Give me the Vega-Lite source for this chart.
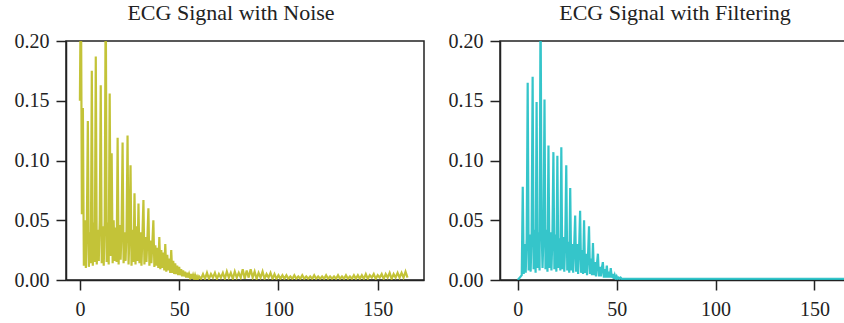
{
 "$schema": "https://vega.github.io/schema/vega-lite/v6.json",
 "padding": {"left": 13, "top": 1, "right": 0, "bottom": 0},
 "background": "white",
 "config": {
  "view": {"stroke": "#222", "strokeWidth": 1.5},
  "axis": {"labelFont": "Liberation Serif", "labelFontSize": 20, "labelColor": "#222", "domainColor": "#222", "domainWidth": 1.5, "tickColor": "#222", "tickWidth": 1.5, "tickSize": 10, "grid": false, "title": null},
  "title": {"font": "Liberation Serif", "fontSize": 22, "fontWeight": "normal", "color": "#222", "offset": 6},
  "concat": {"spacing": 22}
 },
 "data": {"values": [
{"x":0,"n":0.15,"f":0.0},{"x":0.5,"n":0.26,"f":0.001},{"x":1,"n":0.055,"f":0.002},{"x":1.5,"n":0.144,"f":0.003},{"x":2,"n":0.012,"f":0.004},{"x":2.5,"n":0.05,"f":0.078},{"x":3,"n":0.01,"f":0.005},{"x":3.5,"n":0.045,"f":0.03},{"x":4,"n":0.133,"f":0.006},{"x":4.5,"n":0.011,"f":0.035},{"x":5,"n":0.04,"f":0.165},{"x":5.5,"n":0.014,"f":0.008},{"x":6,"n":0.175,"f":0.038},{"x":6.5,"n":0.012,"f":0.007},{"x":7,"n":0.048,"f":0.04},{"x":7.5,"n":0.015,"f":0.17},{"x":8,"n":0.187,"f":0.009},{"x":8.5,"n":0.013,"f":0.042},{"x":9,"n":0.042,"f":0.006},{"x":9.5,"n":0.016,"f":0.149},{"x":10,"n":0.05,"f":0.01},{"x":10.5,"n":0.163,"f":0.04},{"x":11,"n":0.014,"f":0.008},{"x":11.5,"n":0.045,"f":0.24},{"x":12,"n":0.012,"f":0.045},{"x":12.5,"n":0.05,"f":0.01},{"x":13,"n":0.25,"f":0.038},{"x":13.5,"n":0.015,"f":0.151},{"x":14,"n":0.048,"f":0.009},{"x":14.5,"n":0.013,"f":0.042},{"x":15,"n":0.156,"f":0.007},{"x":15.5,"n":0.02,"f":0.1125},{"x":16,"n":0.106,"f":0.01},{"x":16.5,"n":0.014,"f":0.04},{"x":17,"n":0.05,"f":0.008},{"x":17.5,"n":0.016,"f":0.036},{"x":18,"n":0.044,"f":0.107},{"x":18.5,"n":0.015,"f":0.009},{"x":19,"n":0.119,"f":0.038},{"x":19.5,"n":0.013,"f":0.007},{"x":20,"n":0.046,"f":0.104},{"x":20.5,"n":0.017,"f":0.01},{"x":21,"n":0.042,"f":0.035},{"x":21.5,"n":0.115,"f":0.008},{"x":22,"n":0.014,"f":0.111},{"x":22.5,"n":0.04,"f":0.009},{"x":23,"n":0.016,"f":0.036},{"x":23.5,"n":0.042,"f":0.007},{"x":24,"n":0.121,"f":0.034},{"x":24.5,"n":0.013,"f":0.096},{"x":25,"n":0.04,"f":0.008},{"x":25.5,"n":0.096,"f":0.032},{"x":26,"n":0.012,"f":0.006},{"x":26.5,"n":0.042,"f":0.077},{"x":27,"n":0.015,"f":0.008},{"x":27.5,"n":0.0725,"f":0.03},{"x":28,"n":0.013,"f":0.006},{"x":28.5,"n":0.045,"f":0.028},{"x":29,"n":0.016,"f":0.054},{"x":29.5,"n":0.064,"f":0.007},{"x":30,"n":0.014,"f":0.03},{"x":30.5,"n":0.04,"f":0.005},{"x":31,"n":0.012,"f":0.027},{"x":31.5,"n":0.038,"f":0.058},{"x":32,"n":0.067,"f":0.006},{"x":32.5,"n":0.013,"f":0.025},{"x":33,"n":0.036,"f":0.005},{"x":33.5,"n":0.015,"f":0.05},{"x":34,"n":0.035,"f":0.006},{"x":34.5,"n":0.06,"f":0.022},{"x":35,"n":0.012,"f":0.004},{"x":35.5,"n":0.033,"f":0.02},{"x":36,"n":0.014,"f":0.045},{"x":36.5,"n":0.031,"f":0.005},{"x":37,"n":0.05,"f":0.018},{"x":37.5,"n":0.011,"f":0.004},{"x":38,"n":0.029,"f":0.031},{"x":38.5,"n":0.012,"f":0.004},{"x":39,"n":0.027,"f":0.015},{"x":39.5,"n":0.01,"f":0.003},{"x":40,"n":0.036,"f":0.013},{"x":40.5,"n":0.009,"f":0.022},{"x":41,"n":0.025,"f":0.003},{"x":41.5,"n":0.01,"f":0.011},{"x":42,"n":0.023,"f":0.003},{"x":42.5,"n":0.008,"f":0.01},{"x":43,"n":0.03,"f":0.015},{"x":43.5,"n":0.007,"f":0.002},{"x":44,"n":0.021,"f":0.009},{"x":44.5,"n":0.008,"f":0.002},{"x":45,"n":0.018,"f":0.012},{"x":45.5,"n":0.006,"f":0.002},{"x":46,"n":0.025,"f":0.007},{"x":46.5,"n":0.006,"f":0.002},{"x":47,"n":0.016,"f":0.01},{"x":47.5,"n":0.005,"f":0.002},{"x":48,"n":0.014,"f":0.005},{"x":48.5,"n":0.005,"f":0.001},{"x":49,"n":0.012,"f":0.004},{"x":49.5,"n":0.004,"f":0.001},{"x":50,"n":0.011,"f":0.003},{"x":50.5,"n":0.004,"f":0.001},{"x":51,"n":0.009,"f":0.002},{"x":51.5,"n":0.003,"f":0.001},{"x":52,"n":0.008,"f":0.002},{"x":52.5,"n":0.003,"f":0.001},{"x":53,"n":0.007,"f":0.001},{"x":53.5,"n":0.002,"f":0.001},{"x":54,"n":0.006,"f":0.001},{"x":54.5,"n":0.002,"f":0.001},{"x":55,"n":0.005,"f":0.001},{"x":55.5,"n":0.002,"f":0.001},{"x":56,"n":0.005,"f":0.001},{"x":56.5,"n":0.001,"f":0.001},{"x":57,"n":0.004,"f":0.001},{"x":57.5,"n":0.001,"f":0.001},{"x":58,"n":0.004,"f":0.001},{"x":58.5,"n":0.001,"f":0.001},{"x":59,"n":0.003,"f":0.001},{"x":59.5,"n":0.001,"f":0.001},{"x":60,"n":0.003,"f":0.001},
{"x":61,"n":0.001,"f":0.001},{"x":62,"n":0.005,"f":0.001},{"x":63,"n":0.001,"f":0.001},{"x":64,"n":0.006,"f":0.001},{"x":65,"n":0.001,"f":0.001},{"x":66,"n":0.005,"f":0.001},{"x":67,"n":0.002,"f":0.001},{"x":68,"n":0.006,"f":0.001},{"x":69,"n":0.001,"f":0.001},{"x":70,"n":0.005,"f":0.001},{"x":71,"n":0.002,"f":0.001},{"x":72,"n":0.006,"f":0.001},{"x":73,"n":0.001,"f":0.001},{"x":74,"n":0.007,"f":0.001},{"x":75,"n":0.002,"f":0.001},{"x":76,"n":0.006,"f":0.001},{"x":77,"n":0.001,"f":0.001},{"x":78,"n":0.007,"f":0.001},{"x":79,"n":0.002,"f":0.001},{"x":80,"n":0.006,"f":0.001},{"x":81,"n":0.002,"f":0.001},{"x":82,"n":0.009,"f":0.001},{"x":83,"n":0.001,"f":0.001},{"x":84,"n":0.008,"f":0.001},{"x":85,"n":0.002,"f":0.001},{"x":86,"n":0.009,"f":0.001},{"x":87,"n":0.002,"f":0.001},{"x":88,"n":0.007,"f":0.001},{"x":89,"n":0.001,"f":0.001},{"x":90,"n":0.006,"f":0.001},{"x":91,"n":0.002,"f":0.001},{"x":92,"n":0.007,"f":0.001},{"x":93,"n":0.001,"f":0.001},{"x":94,"n":0.005,"f":0.001},{"x":95,"n":0.002,"f":0.001},{"x":96,"n":0.006,"f":0.001},{"x":97,"n":0.001,"f":0.001},{"x":98,"n":0.005,"f":0.001},{"x":99,"n":0.001,"f":0.001},{"x":100,"n":0.004,"f":0.001},{"x":101,"n":0.001,"f":0.001},{"x":102,"n":0.004,"f":0.001},{"x":103,"n":0.001,"f":0.001},{"x":104,"n":0.004,"f":0.001},{"x":105,"n":0.001,"f":0.001},{"x":106,"n":0.003,"f":0.001},{"x":107,"n":0.001,"f":0.001},{"x":108,"n":0.004,"f":0.001},{"x":109,"n":0.001,"f":0.001},{"x":110,"n":0.003,"f":0.001},{"x":111,"n":0.001,"f":0.001},{"x":112,"n":0.004,"f":0.001},{"x":113,"n":0.001,"f":0.001},{"x":114,"n":0.003,"f":0.001},{"x":115,"n":0.001,"f":0.001},{"x":116,"n":0.003,"f":0.001},{"x":117,"n":0.001,"f":0.001},{"x":118,"n":0.004,"f":0.001},{"x":119,"n":0.001,"f":0.001},{"x":120,"n":0.003,"f":0.001},{"x":121,"n":0.001,"f":0.001},{"x":122,"n":0.003,"f":0.001},{"x":123,"n":0.001,"f":0.001},{"x":124,"n":0.004,"f":0.001},{"x":125,"n":0.001,"f":0.001},{"x":126,"n":0.003,"f":0.001},{"x":127,"n":0.001,"f":0.001},{"x":128,"n":0.003,"f":0.001},{"x":129,"n":0.001,"f":0.001},{"x":130,"n":0.004,"f":0.001},{"x":131,"n":0.001,"f":0.001},{"x":132,"n":0.003,"f":0.001},{"x":133,"n":0.001,"f":0.001},{"x":134,"n":0.004,"f":0.001},{"x":135,"n":0.001,"f":0.001},{"x":136,"n":0.003,"f":0.001},{"x":137,"n":0.001,"f":0.001},{"x":138,"n":0.004,"f":0.001},{"x":139,"n":0.001,"f":0.001},{"x":140,"n":0.004,"f":0.001},{"x":141,"n":0.001,"f":0.001},{"x":142,"n":0.004,"f":0.001},{"x":143,"n":0.001,"f":0.001},{"x":144,"n":0.005,"f":0.001},{"x":145,"n":0.001,"f":0.001},{"x":146,"n":0.004,"f":0.001},{"x":147,"n":0.002,"f":0.001},{"x":148,"n":0.005,"f":0.001},{"x":149,"n":0.001,"f":0.001},{"x":150,"n":0.004,"f":0.001},{"x":151,"n":0.002,"f":0.001},{"x":152,"n":0.005,"f":0.001},{"x":153,"n":0.001,"f":0.001},{"x":154,"n":0.005,"f":0.001},{"x":155,"n":0.002,"f":0.001},{"x":156,"n":0.006,"f":0.001},{"x":157,"n":0.001,"f":0.001},{"x":158,"n":0.005,"f":0.001},{"x":159,"n":0.002,"f":0.001},{"x":160,"n":0.006,"f":0.001},{"x":161,"n":0.002,"f":0.001},{"x":162,"n":0.006,"f":0.001},{"x":163,"n":0.002,"f":0.001},{"x":164,"n":0.007,"f":0.001},{"x":165,"n":0.002,"f":0.001}
 ]},
 "hconcat": [
  {
   "width": 358, "height": 239,
   "title": {"text": "ECG Signal with Noise", "dx": -14},
   "mark": {"type": "line", "color": "#bcbd22", "strokeWidth": 2.2, "opacity": 0.9, "clip": true},
   "encoding": {
    "x": {"field": "x", "type": "quantitative", "scale": {"domain": [-7, 173.3], "nice": false, "zero": false}, "axis": {"values": [0, 50, 100, 150], "labelPadding": 9}},
    "y": {"field": "n", "type": "quantitative", "scale": {"domain": [0, 0.2], "nice": false}, "axis": {"values": [0, 0.05, 0.1, 0.15, 0.2], "format": ".2f", "labelPadding": 7}}
   }
  },
  {
   "width": 358, "height": 239,
   "title": {"text": "ECG Signal with Filtering", "dx": -4},
   "mark": {"type": "line", "color": "#1fbfc4", "strokeWidth": 2.2, "opacity": 0.9, "clip": true},
   "encoding": {
    "x": {"field": "x", "type": "quantitative", "scale": {"domain": [-9, 172], "nice": false, "zero": false}, "axis": {"values": [0, 50, 100, 150], "labelPadding": 9}},
    "y": {"field": "f", "type": "quantitative", "scale": {"domain": [0, 0.2], "nice": false}, "axis": {"values": [0, 0.05, 0.1, 0.15, 0.2], "format": ".2f", "labelPadding": 7}}
   }
  }
 ]
}
